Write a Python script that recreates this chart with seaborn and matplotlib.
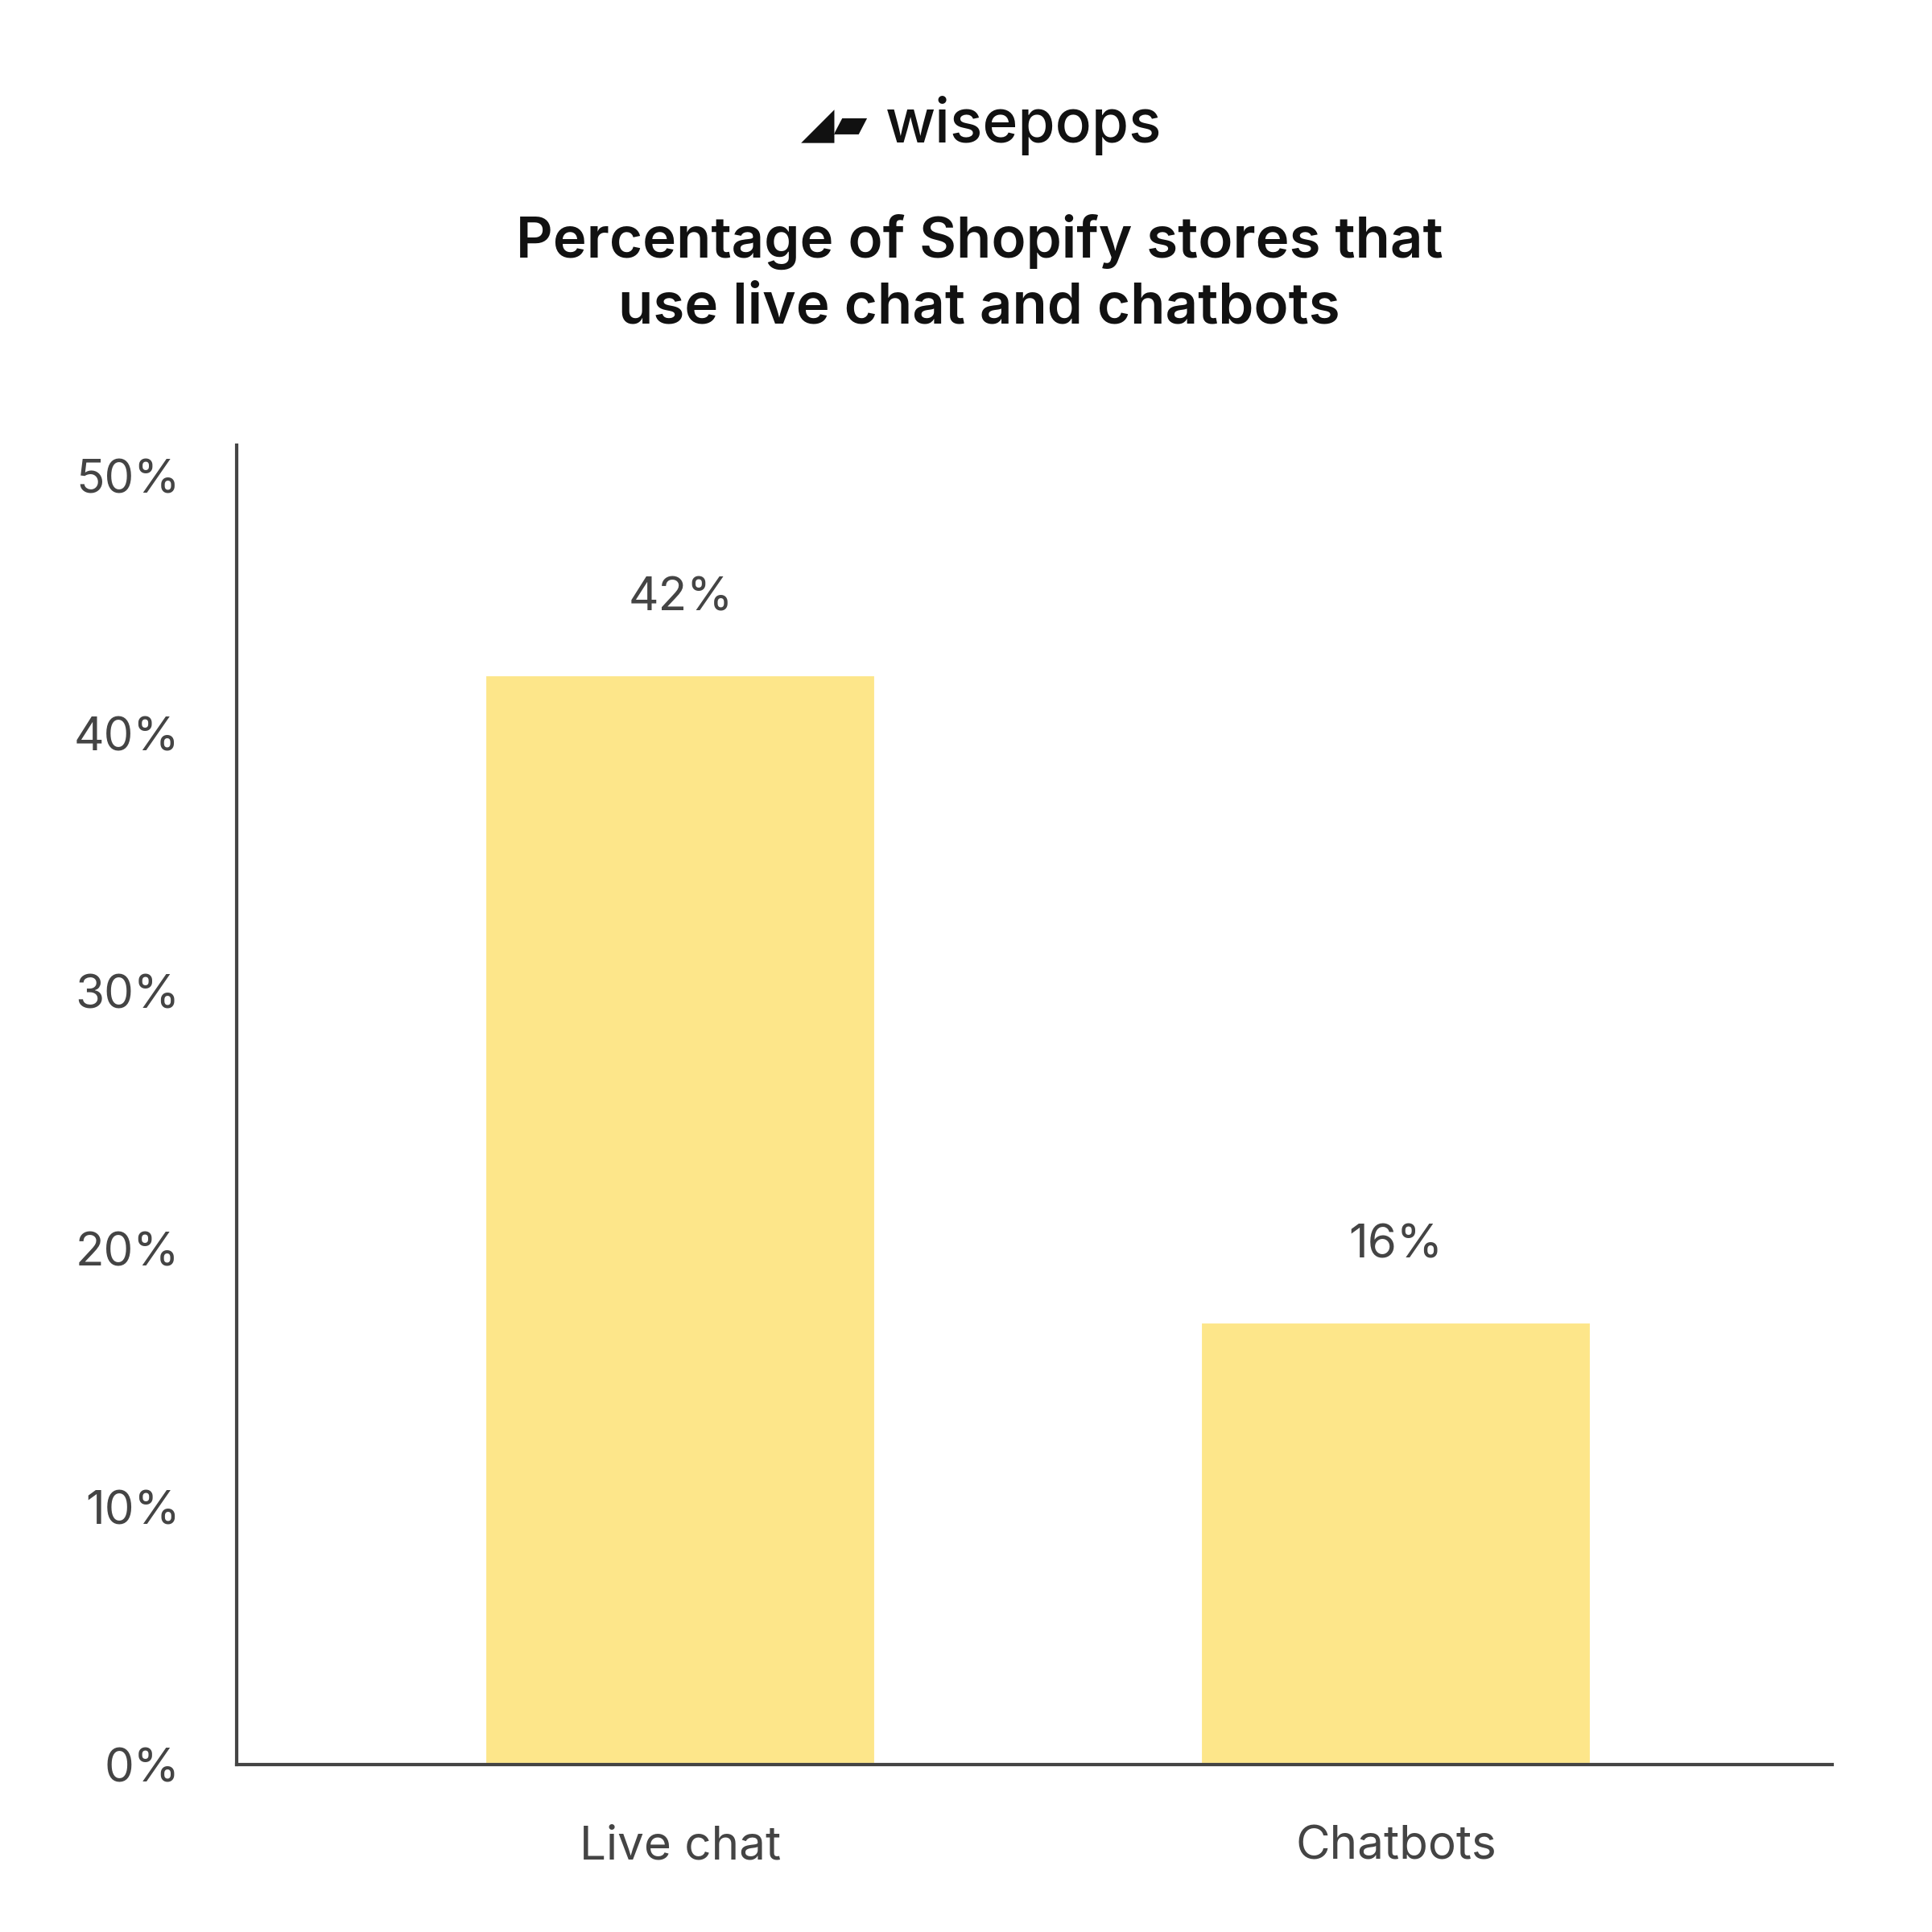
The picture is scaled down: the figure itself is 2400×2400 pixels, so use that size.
import matplotlib
matplotlib.use("Agg")
import matplotlib.pyplot as plt
import seaborn as sns
import pandas as pd

# ---------------- DATA ----------------
categories = ["Live chat", "Chatbots"]
heights = [42.3, 17.2]
value_labels = ["42%", "16%"]
yticks = [0, 10, 20, 30, 40, 50]

df = pd.DataFrame({"cat": categories, "val": heights})

sns.set_theme(style="white")
plt.rcParams["font.family"] = ["Inter", "DejaVu Sans"]

fig = plt.figure(figsize=(8, 8), dpi=300)
ax = fig.add_axes([0.1226, 0.0865, 0.8258, 0.6832])

sns.barplot(data=df, x="cat", y="val", color="#FDE68A", saturation=1,
            width=0.547, ax=ax)

for i, (v, lab) in enumerate(zip(heights, value_labels)):
    ax.text(i, v + 2.95, lab, ha="center", va="center",
            fontsize=14, color="#444444")

ax.set_xlim(-0.62, 1.61)
ax.set_ylim(0, 51.2)
ax.set_yticks(yticks)
ax.set_yticklabels([f"{t}%" for t in yticks])
ax.set_xlabel("")
ax.set_ylabel("")
ax.tick_params(axis="y", length=0, pad=17, labelsize=14, labelcolor="#444444")
ax.tick_params(axis="x", length=0, pad=18, labelsize=14, labelcolor="#444444")
for s in ["top", "right"]:
    ax.spines[s].set_visible(False)
for s in ["left", "bottom"]:
    ax.spines[s].set_color("#444444")
    ax.spines[s].set_linewidth(1)

fig.text(0.507, 0.858, "Percentage of Shopify stores that\nuse live chat and chatbots",
         ha="center", va="center", fontsize=17, fontweight="semibold",
         color="#111111", linespacing=1.3)
fig.text(0.53, 0.935, "wisepops", ha="center", va="center",
         fontsize=18, fontweight="medium", color="#111111")
fig.text(0.432, 0.935, "◢▰", ha="center", va="center",
         fontsize=13, color="#111111", family=["DejaVu Sans"])

fig.savefig("out.png", dpi=300, facecolor="white")
